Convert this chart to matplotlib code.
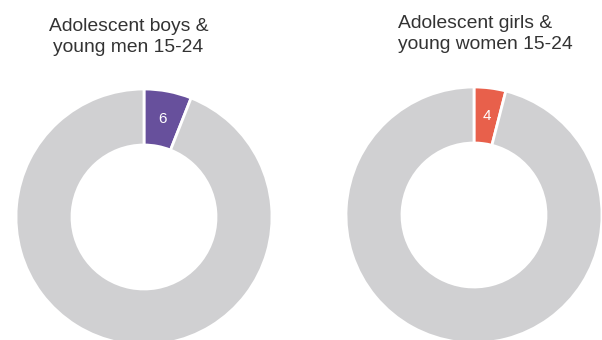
import matplotlib
matplotlib.use("Agg")
import matplotlib.pyplot as plt

groups = ["Adolescent boys &\nyoung men 15-24", "Adolescent girls &\nyoung women 15-24"]
values = [6, 4]
colors = ["#67509C", "#E8604B"]
rest_color = "#D0D0D2"

W, H = 602, 340
fig = plt.figure(figsize=(W / 100, H / 100), dpi=100)
ax = fig.add_axes([0, 0, 1, 1])

centers = [(144, H - 217), (474, H - 215)]
R = 128
ring = 56

for i, (v, c, ctr) in enumerate(zip(values, colors, centers)):
    ax.pie([v, 100 - v], colors=[c, rest_color], startangle=90, counterclock=False,
           center=ctr, radius=R, labels=[str(v), ""], labeldistance=100 / R,
           textprops=dict(color="white", fontsize=11, family="Liberation Sans",
                          ha="center", va="center"),
           wedgeprops=dict(width=ring, edgecolor="white", linewidth=2))

font = ["Liberation Sans", "DejaVu Sans"]
ax.text(128.5, H - 52, groups[0], ha="center", va="baseline", multialignment="center",
        fontsize=13.9, color="#333333", family=font, linespacing=1.3)
ax.text(398, H - 49, groups[1], ha="left", va="baseline", multialignment="left",
        fontsize=13.9, color="#333333", family=font, linespacing=1.3)

ax.set_xlim(0, W)
ax.set_ylim(0, H)
ax.set_aspect("auto")
ax.axis("off")
fig.savefig("out.png", dpi=100)
